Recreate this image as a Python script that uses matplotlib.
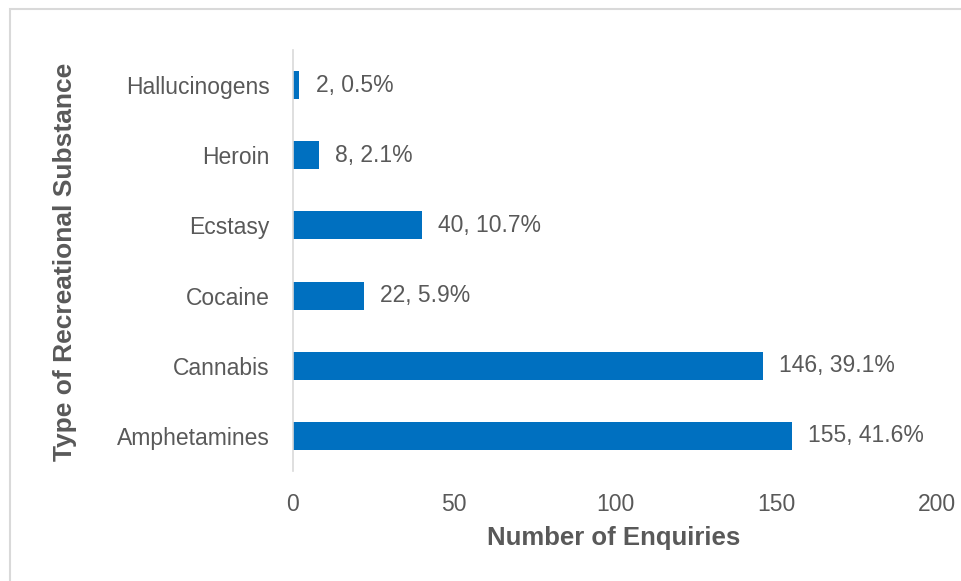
import matplotlib.pyplot as plt
from matplotlib.patches import Rectangle

plt.rcParams['font.family'] = ['Liberation Sans', 'DejaVu Sans']

substances = ["Amphetamines", "Cannabis", "Cocaine", "Ecstasy", "Heroin", "Hallucinogens"]
enquiries = [155, 146, 22, 40, 8, 2]
percents = [41.6, 39.1, 5.9, 10.7, 2.1, 0.5]
x_ticks = [0, 50, 100, 150, 200]

bar_color = "#0070C0"
text_color = "#595959"

fig = plt.figure(figsize=(9.62, 5.81), dpi=100)
ax = fig.add_axes([293 / 962, 1 - 471 / 581, (937 - 293) / 962, (471 - 50) / 581])

# outer chart frame (only top and left edges fall inside the image)
fig.patches.append(Rectangle((10 / 962, -0.1), 1.2, 1.1 - 8.5 / 581,
                             transform=fig.transFigure, fill=False,
                             edgecolor="#D9D9D9", linewidth=1.5))

ypos = range(len(substances))
ax.barh(ypos, enquiries, height=0.4, color=bar_color)

for y, v, p in zip(ypos, enquiries, percents):
    ax.text(v + 5, y, f"{v}, {p}%", va="center", ha="left",
            fontsize=16.5, color=text_color)

ax.set_xlim(0, 200)
ax.set_ylim(-0.5, len(substances) - 0.5)
ax.set_xticks(x_ticks)
ax.set_yticks(list(ypos))
ax.set_yticklabels(substances)
ax.tick_params(axis="both", length=0, labelsize=16.5, labelcolor=text_color)
ax.tick_params(axis="x", pad=16)
ax.tick_params(axis="y", pad=17)

for side in ["top", "right", "bottom"]:
    ax.spines[side].set_visible(False)
ax.spines["left"].set_color("#D9D9D9")
ax.spines["left"].set_linewidth(1.2)

fig.text(614 / 962, 1 - 538 / 581, "Number of Enquiries", ha="center", va="center",
         fontsize=18.5, fontweight="bold", color=text_color)
fig.text(65 / 962, 1 - 262 / 581, "Type of Recreational Substance", ha="center",
         va="center", rotation=90, fontsize=19, fontweight="bold", color=text_color)

fig.savefig("out.png", dpi=100)
